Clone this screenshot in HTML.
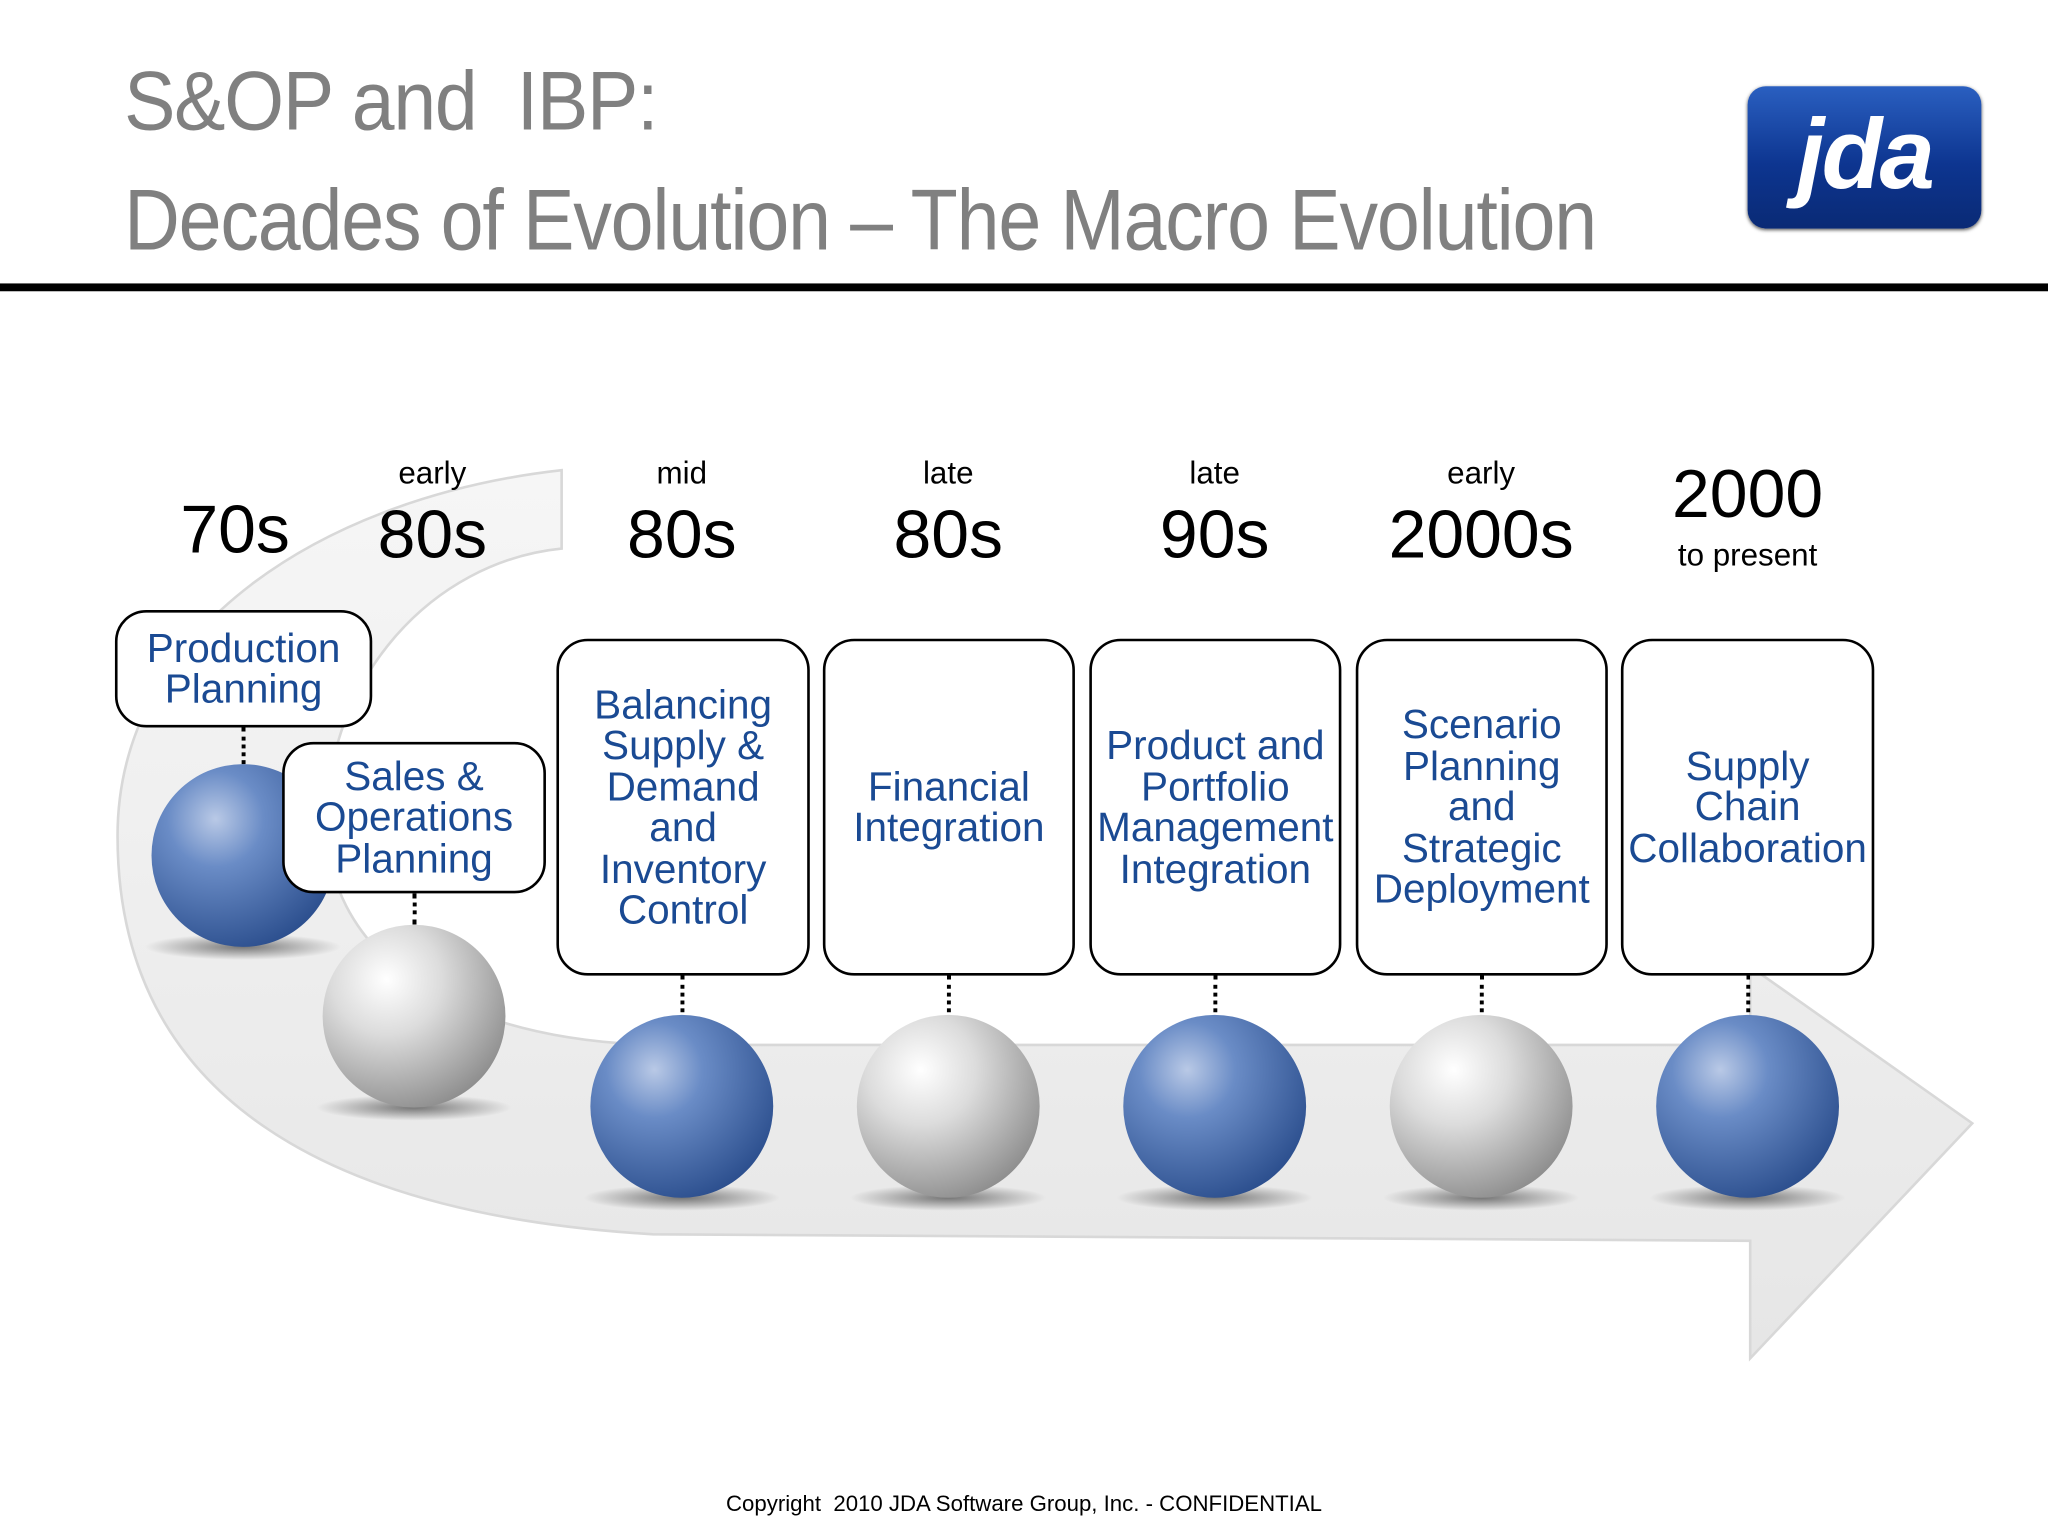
<!DOCTYPE html>
<html><head><meta charset="utf-8">
<style>
html,body{margin:0;padding:0;background:#fff;}
body{width:2048px;height:1536px;overflow:hidden;}
#stage{position:absolute;left:0;top:0;width:1568px;height:1176px;transform:scale(1.30612);transform-origin:0 0;font-family:"Liberation Sans","DejaVu Sans",sans-serif;}
.t{position:absolute;color:#808080;font-size:64px;white-space:nowrap;letter-spacing:-1px;transform:scaleX(0.92);transform-origin:0 0;}
.box{position:absolute;border:2px solid #000;border-radius:24px;background:#fff;box-sizing:border-box;display:flex;align-items:center;justify-content:center;text-align:center;color:#1a4a93;font-size:31px;line-height:31.5px;}
.sm{position:absolute;font-size:24px;color:#000;text-align:center;width:200px;}
.big{position:absolute;font-size:52px;color:#000;text-align:center;width:200px;}
.dot{position:absolute;border-left:3px dotted #000;width:0;}
</style></head><body>
<div id="stage">
<div class="t" style="left:95px;top:40px;">S&amp;OP and &nbsp;IBP:</div>
<div class="t" style="left:95px;top:130px;font-size:66px;transform:scaleX(0.895);">Decades of Evolution – The Macro Evolution</div>
<div style="position:absolute;left:0;top:217px;width:1568px;height:6px;background:#000;"></div>
<div style="position:absolute;left:1338px;top:66px;width:179px;height:109px;border-radius:14px;background:linear-gradient(#2a5fc0,#0d3590 55%,#0a2a75);box-shadow:0 1px 3px #555;">
<div style="position:absolute;left:0;top:8px;width:179px;text-align:center;color:#fff;font-weight:bold;font-style:italic;font-size:76px;letter-spacing:-2px;line-height:90px;">jda</div></div>

<svg width="1568" height="1176" style="position:absolute;left:0;top:0;">
<defs>
<linearGradient id="g" x1="0" y1="0" x2="0" y2="1"><stop offset="0" stop-color="#f6f6f6"/><stop offset="1" stop-color="#e6e6e6"/></linearGradient>
<radialGradient id="bb" cx="0.35" cy="0.3" r="0.75"><stop offset="0" stop-color="#b9c9e6"/><stop offset="0.35" stop-color="#6a8cc6"/><stop offset="1" stop-color="#2c4f8e"/></radialGradient>
<radialGradient id="gb" cx="0.35" cy="0.3" r="0.75"><stop offset="0" stop-color="#ffffff"/><stop offset="0.4" stop-color="#dcdcdc"/><stop offset="1" stop-color="#8e8e8e"/></radialGradient>
<radialGradient id="sh" cx="0.5" cy="0.5" r="0.5"><stop offset="0" stop-color="#000" stop-opacity="0.5"/><stop offset="1" stop-color="#000" stop-opacity="0"/></radialGradient>
</defs>
<path d="M430,360 C250,380 90,480 90,640 C90,840 250,930 500,945 L1340,950 L1340,1040 L1510,860 L1340,740 L1340,800 L500,800 C330,795 250,720 250,630 C250,520 330,430 430,420 Z" fill="url(#g)" stroke="#d8d8d8" stroke-width="2"/>
<g>
<ellipse cx="186" cy="725" rx="75" ry="10" fill="url(#sh)"/><circle cx="186" cy="655" r="70" fill="url(#bb)"/>
<ellipse cx="317" cy="848" rx="75" ry="10" fill="url(#sh)"/><circle cx="317" cy="778" r="70" fill="url(#gb)"/>
<ellipse cx="522" cy="917" rx="75" ry="10" fill="url(#sh)"/><circle cx="522" cy="847" r="70" fill="url(#bb)"/>
<ellipse cx="726" cy="917" rx="75" ry="10" fill="url(#sh)"/><circle cx="726" cy="847" r="70" fill="url(#gb)"/>
<ellipse cx="930" cy="917" rx="75" ry="10" fill="url(#sh)"/><circle cx="930" cy="847" r="70" fill="url(#bb)"/>
<ellipse cx="1134" cy="917" rx="75" ry="10" fill="url(#sh)"/><circle cx="1134" cy="847" r="70" fill="url(#gb)"/>
<ellipse cx="1338" cy="917" rx="75" ry="10" fill="url(#sh)"/><circle cx="1338" cy="847" r="70" fill="url(#bb)"/>
</g>
</svg>

<div class="big" style="left:80px;top:376px;">70s</div>
<div class="sm" style="left:231px;top:349px;">early</div>
<div class="big" style="left:231px;top:380px;">80s</div>
<div class="sm" style="left:422px;top:349px;">mid</div>
<div class="big" style="left:422px;top:380px;">80s</div>
<div class="sm" style="left:626px;top:349px;">late</div>
<div class="big" style="left:626px;top:380px;">80s</div>
<div class="sm" style="left:830px;top:349px;">late</div>
<div class="big" style="left:830px;top:380px;">90s</div>
<div class="sm" style="left:1034px;top:349px;">early</div>
<div class="big" style="left:1034px;top:380px;">2000s</div>
<div class="big" style="left:1238px;top:349px;">2000</div>
<div class="sm" style="left:1238px;top:412px;">to present</div>

<div class="box" style="left:88px;top:467px;width:197px;height:90px;">Production<br>Planning</div>
<div class="box" style="left:216px;top:568px;width:202px;height:116px;">Sales &amp;<br>Operations<br>Planning</div>
<div class="box" style="left:426px;top:489px;width:194px;height:258px;">Balancing<br>Supply &amp;<br>Demand<br>and<br>Inventory<br>Control</div>
<div class="box" style="left:630px;top:489px;width:193px;height:258px;">Financial<br>Integration</div>
<div class="box" style="left:834px;top:489px;width:193px;height:258px;">Product and<br>Portfolio<br>Management<br>Integration</div>
<div class="box" style="left:1038px;top:489px;width:193px;height:258px;">Scenario<br>Planning<br>and<br>Strategic<br>Deployment</div>
<div class="box" style="left:1241px;top:489px;width:194px;height:258px;">Supply<br>Chain<br>Collaboration</div>

<div class="dot" style="left:185px;top:557px;height:28px;"></div>
<div class="dot" style="left:316px;top:684px;height:24px;"></div>
<div class="dot" style="left:521px;top:747px;height:28px;"></div>
<div class="dot" style="left:725px;top:747px;height:28px;"></div>
<div class="dot" style="left:929px;top:747px;height:28px;"></div>
<div class="dot" style="left:1133px;top:747px;height:28px;"></div>
<div class="dot" style="left:1337px;top:747px;height:28px;"></div>

<div style="position:absolute;left:0;top:1142px;width:1568px;text-align:center;font-size:17px;color:#000;">Copyright &nbsp;2010 JDA Software Group, Inc. - CONFIDENTIAL</div>
</div>
</body></html>
